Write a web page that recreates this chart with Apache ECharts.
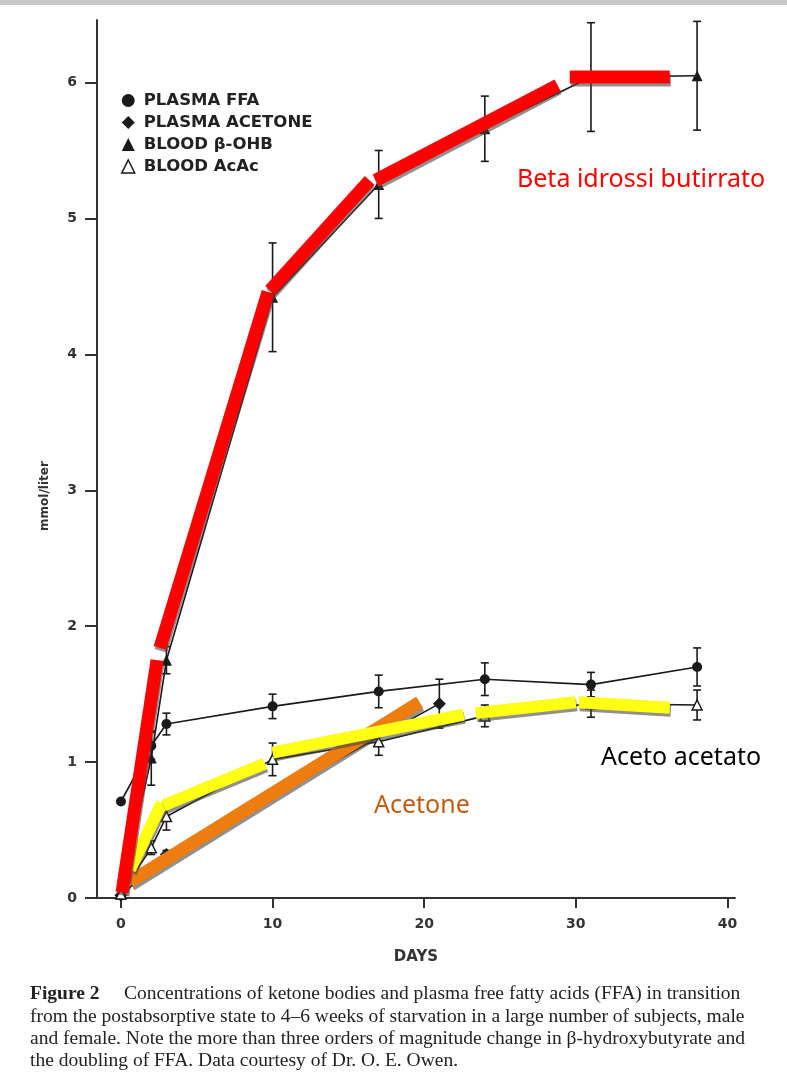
<!DOCTYPE html>
<html>
<head>
<meta charset="utf-8">
<title>Ketone bodies in starvation</title>
<script src="https://cdn.jsdelivr.net/npm/echarts@6/dist/echarts.min.js"></script>
<style>
  html, body { margin: 0; padding: 0; background: #fff; }
  #chart { width: 787px; height: 1080px; }
</style>
</head>
<body>
<div id="chart"></div>
<script>
const ffaDays = [0, 2, 3, 10, 17, 24, 31, 38];
const ffaVals = [0.71, 1.12, 1.28, 1.41, 1.52, 1.61, 1.57, 1.70];
const ffaErr = [0, 0.1, 0.08, 0.09, 0.12, 0.12, 0.09, 0.14];

const acetoneDays = [0, 3, 21];
const acetoneVals = [0.02, 0.32, 1.43];
const acetoneErr = [0, 0.03, 0.18];

const ohbDays = [0, 2, 3, 10, 17, 24, 31, 38];
const ohbVals = [0.03, 1.03, 1.75, 4.42, 5.25, 5.66, 6.04, 6.05];
const ohbErr = [0, 0.2, 0.1, 0.4, 0.25, 0.24, 0.4, 0.4];

const acacDays = [0, 2, 3, 10, 17, 24, 31, 38];
const acacVals = [0.03, 0.37, 0.6, 1.02, 1.15, 1.34, 1.43, 1.42];
const acacErr = [0, 0.05, 0.1, 0.12, 0.1, 0.08, 0.1, 0.11];

// hand drawn highlight strokes, one [start, end] pair per stroke
const betaMarkX = [[0.07, 2.38], [2.57, 9.7], [9.83, 16.4], [16.8, 28.8], [29.6, 36.2]];
const betaMarkY = [[0.04, 1.75], [1.84, 4.46], [4.47, 5.28], [5.28, 5.98], [6.04, 6.04]];
const acacMarkX = [[0.6, 2.7], [2.8, 9.5], [10.0, 22.6], [23.4, 30.0], [30.2, 36.2]];
const acacMarkY = [[0.21, 0.7], [0.68, 0.99], [1.07, 1.35], [1.36, 1.44], [1.44, 1.40]];
const acetoneMarkX = [[0.6, 19.7]];
const acetoneMarkY = [[0.12, 1.44]];

const xTicks = [0, 10, 20, 30, 40];
const yTicks = [0, 1, 2, 3, 4, 5, 6];

const captionLines = [
  "Concentrations of ketone bodies and plasma free fatty acids (FFA) in transition",
  "from the postabsorptive state to 4\u20136 weeks of starvation in a large number of subjects, male",
  "and female. Note the more than three orders of magnitude change in \u03b2-hydroxybutyrate and",
  "the doubling of FFA. Data courtesy of Dr. O. E. Owen."
];

const ink = "#1a1a1a";
const boldFont = "DejaVu Sans";

function pts(days, vals) {
  return days.map((d, i) => [d, vals[i]]);
}
function errPts(days, vals, err) {
  return days.map((d, i) => [d, vals[i] - err[i], vals[i] + err[i]]).filter((p, i) => err[i] > 0);
}

function renderErr(params, api) {
  const x = api.value(0);
  const top = api.coord([x, api.value(2)]);
  const bot = api.coord([x, api.value(1)]);
  const w = 4;
  const st = { stroke: ink, lineWidth: 1.6 };
  return {
    type: "group",
    children: [
      { type: "line", shape: { x1: top[0], y1: top[1], x2: bot[0], y2: bot[1] }, style: st },
      { type: "line", shape: { x1: top[0] - w, y1: top[1], x2: top[0] + w, y2: top[1] }, style: st },
      { type: "line", shape: { x1: bot[0] - w, y1: bot[1], x2: bot[0] + w, y2: bot[1] }, style: st }
    ]
  };
}

function errSeries(name, days, vals, err) {
  return {
    name: name,
    type: "custom",
    renderItem: renderErr,
    data: errPts(days, vals, err),
    encode: { x: 0, y: [1, 2] },
    z: 2,
    silent: true
  };
}

function markSeries(xs, ys, color, width) {
  return xs.map((xx, i) => ({
    type: "line",
    data: [[xx[0], ys[i][0]], [xx[1], ys[i][1]]],
    symbol: "none",
    silent: true,
    z: 10,
    lineStyle: {
      color: color,
      width: width,
      cap: "butt",
      shadowColor: "rgba(70,70,70,0.6)",
      shadowOffsetX: 1,
      shadowOffsetY: 3
    }
  }));
}

const chart = echarts.init(document.getElementById("chart"), null, { renderer: "canvas" });

const series = [
  errSeries("errFfa", ffaDays, ffaVals, ffaErr),
  errSeries("errAcetone", acetoneDays, acetoneVals, acetoneErr),
  errSeries("errOhb", ohbDays, ohbVals, ohbErr),
  errSeries("errAcac", acacDays, acacVals, acacErr),
  {
    name: "PLASMA FFA",
    type: "line",
    data: pts(ffaDays, ffaVals),
    symbol: "circle",
    symbolSize: 10,
    itemStyle: { color: ink },
    lineStyle: { color: ink, width: 1.6 },
    z: 3
  },
  {
    name: "PLASMA ACETONE",
    type: "line",
    data: pts(acetoneDays, acetoneVals),
    symbol: "diamond",
    symbolSize: 13,
    itemStyle: { color: ink },
    lineStyle: { color: ink, width: 1.6 },
    z: 3
  },
  {
    name: "BLOOD \u03b2-OHB",
    type: "line",
    data: pts(ohbDays, ohbVals),
    symbol: "triangle",
    symbolSize: 11,
    itemStyle: { color: ink },
    lineStyle: { color: ink, width: 1.6 },
    z: 3
  },
  {
    name: "BLOOD AcAc",
    type: "line",
    data: pts(acacDays, acacVals),
    symbol: "triangle",
    symbolSize: 10,
    itemStyle: { color: "#fff", borderColor: ink, borderWidth: 1.5 },
    lineStyle: { color: ink, width: 1.6 },
    z: 3
  }
]
  .concat(markSeries(acetoneMarkX, acetoneMarkY, "#ec7d0e", 13))
  .concat(markSeries(acacMarkX, acacMarkY, "#ffff14", 12))
  .concat(markSeries(betaMarkX, betaMarkY, "#ff0000", 13));

const caption = captionLines.map((line, i) => ({
  type: "text",
  left: 30,
  top: 984 + i * 22.4,
  style: {
    text: i === 0 ? "{b|Figure 2}     " + line : line,
    font: "19.5px 'Liberation Serif'",
    fill: "#222",
    rich: { b: { font: "bold 19.5px 'Liberation Serif'", fill: "#222" } }
  }
}));

chart.setOption({
  animation: false,
  backgroundColor: "#fff",
  grid: { left: 97, right: 52, top: 20, bottom: 182 },
  legend: {
    orient: "vertical",
    left: 116,
    top: 87,
    itemWidth: 13,
    itemHeight: 13,
    itemGap: 5,
    selectedMode: false,
    textStyle: { fontFamily: boldFont, fontWeight: "bold", fontSize: 16.5, color: "#222", padding: [0, 0, 0, 4] },
    data: [
      { name: "PLASMA FFA", icon: "circle" },
      { name: "PLASMA ACETONE", icon: "diamond" },
      { name: "BLOOD \u03b2-OHB", icon: "triangle" },
      { name: "BLOOD AcAc", icon: "triangle", itemStyle: { color: "#fff", borderColor: ink, borderWidth: 1.5 } }
    ]
  },
  xAxis: {
    type: "value",
    min: -1.58,
    max: 40.5,
    name: "DAYS",
    nameLocation: "middle",
    nameGap: 52,
    nameTextStyle: { fontFamily: boldFont, fontWeight: "bold", fontSize: 15, color: "#333" },
    splitLine: { show: false },
    axisLine: { onZero: false, lineStyle: { color: "#333", width: 2 } },
    axisTick: { customValues: xTicks, length: 10, lineStyle: { color: "#333", width: 2 } },
    axisLabel: {
      customValues: xTicks,
      margin: 19,
      fontFamily: boldFont,
      fontWeight: "bold",
      fontSize: 14,
      color: "#333"
    }
  },
  yAxis: {
    type: "value",
    min: 0,
    max: 6.46,
    splitLine: { show: false },
    axisLine: { show: true, onZero: false, lineStyle: { color: "#333", width: 2 } },
    axisTick: { show: true, customValues: yTicks, length: 12, lineStyle: { color: "#333", width: 2 } },
    axisLabel: {
      customValues: yTicks,
      margin: 20,
      fontFamily: boldFont,
      fontWeight: "bold",
      fontSize: 14,
      color: "#333"
    }
  },
  graphic: [
    { type: "rect", left: 0, top: 0, shape: { width: 787, height: 5 }, style: { fill: "#c8c8c8" } },
    {
      type: "text", x: 45, y: 496, rotation: Math.PI / 2,
      style: { text: "mmol/liter", font: "bold 12px 'DejaVu Sans'", fill: "#333", align: "center", verticalAlign: "middle" }
    },
    {
      type: "text", left: 517, top: 167,
      style: { text: "Beta idrossi butirrato", font: "25px 'Noto Sans'", fill: "#ff0000" }
    },
    {
      type: "text", left: 601, top: 745,
      style: { text: "Aceto acetato", font: "25px 'Noto Sans'", fill: "#000" }
    },
    {
      type: "text", left: 374, top: 793,
      style: { text: "Acetone", font: "25px 'Noto Sans'", fill: "#c55a11" }
    }
  ].concat(caption),
  series: series
});
</script>
</body>
</html>
